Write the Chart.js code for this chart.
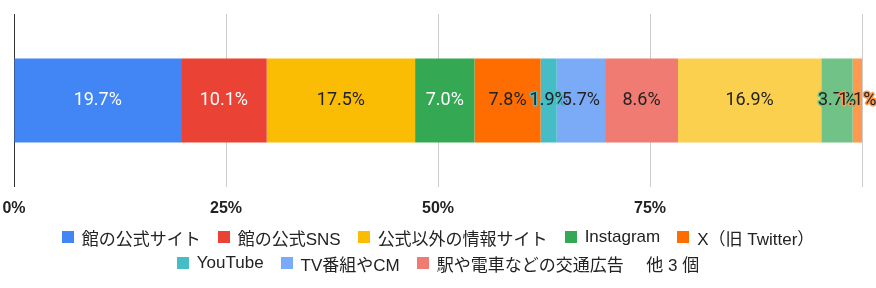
<!DOCTYPE html>
<html>
<head>
<meta charset="utf-8">
<script src="https://cdn.jsdelivr.net/npm/chart.js@4/dist/chart.umd.min.js"></script>
<style>
  body { margin: 0; background: #fff; }
  #wrap { position: relative; width: 876px; height: 288px; }
  #box { position: absolute; left: 0; top: 0; width: 876px; height: 230px; }
  #legend {
    position: absolute; left: 0; top: 224px; width: 876px;
    font-family: "Liberation Sans", Arial, "Noto Sans CJK JP", sans-serif;
    font-size: 17px; color: #222;
  }
  .row { display: flex; justify-content: center; height: 26px; align-items: center; }
  .item { display: flex; align-items: center; margin: 0 8.5px; white-space: nowrap; }
  .item.more { margin-left: 14px; }
  .sw { width: 12px; height: 12px; margin-right: 8px; }
</style>
</head>
<body>
<div id="wrap">
  <div id="box"><canvas id="myChart"></canvas></div>
  <div id="legend"></div>
</div>
<script>
// categories and values (percent)
const labels = ['館の公式サイト', '館の公式SNS', '公式以外の情報サイト', 'Instagram', 'X（旧 Twitter）',
  'YouTube', 'TV番組やCM', '駅や電車などの交通広告', 'その他1', 'その他2', 'その他3'];
const values = [19.7, 10.1, 17.5, 7.0, 7.8, 1.9, 5.7, 8.6, 16.9, 3.7, 1.1];
const colors = ['#4285F4', '#EA4335', '#FBBC04', '#34A853', '#FF6D01', '#46BDC6',
  '#7BAAF7', '#F07B72', '#FCD04F', '#71C287', '#FF994D'];
const textColors = ['#fff', '#fff', '#222', '#fff', '#222', '#222', '#222', '#222', '#222', '#222', '#222'];
const tickValues = [0, 25, 50, 75, 100];

// legend rows (first 8 items, then "他 3 個")
const legendRows = [[0, 1, 2, 3, 4], [5, 6, 7, 'more']];
const legend = document.querySelector('#legend');
for (const row of legendRows) {
    let r = document.createElement('div');
    r.className = 'row';
    for (const i of row) {
        let it = document.createElement('div');
        it.className = 'item';
        if (i === 'more') {
            it.className = 'item more';
            it.textContent = '他 3 個';
        } else {
            let sw = document.createElement('span');
            sw.className = 'sw';
            sw.style.background = colors[i];
            it.appendChild(sw);
            it.appendChild(document.createTextNode(labels[i]));
        }
        r.appendChild(it);
    }
    legend.appendChild(r);
}

// draw the percent labels inside the segments, with a halo in the segment color
const segLabels = {
    id: 'segLabels',
    afterDatasetsDraw(chart) {
        const ctx = chart.ctx;
        ctx.save();
        ctx.font = '18px Roboto';
        ctx.textAlign = 'center';
        ctx.textBaseline = 'middle';
        ctx.lineJoin = 'round';
        chart.data.datasets.forEach((ds, i) => {
            const bar = chart.getDatasetMeta(i).data[0];
            const x = (bar.x + bar.base) / 2;
            const txt = ds.data[0].toFixed(1) + '%';
            ctx.lineWidth = 3;
            ctx.strokeStyle = colors[i];
            ctx.strokeText(txt, x, bar.y);
            ctx.fillStyle = textColors[i];
            ctx.fillText(txt, x, bar.y);
        });
        ctx.restore();
    }
};

let myChart = document.querySelector('#myChart').getContext('2d');
let stackChart = new Chart(myChart, {
    type: 'bar',
    data: {
        labels: [''],
        datasets: labels.map((l, i) => ({
            label: l,
            data: [values[i]],
            backgroundColor: colors[i],
            borderWidth: 0,
            categoryPercentage: 1,
            barPercentage: 0.486
        }))
    },
    options: {
        indexAxis: 'y',
        responsive: true,
        maintainAspectRatio: false,
        animation: false,
        layout: { padding: { left: 14, right: 14, top: 14, bottom: 0 } },
        plugins: { legend: { display: false }, tooltip: { enabled: false } },
        scales: {
            x: {
                stacked: true,
                min: 0,
                max: 100,
                afterBuildTicks: axis => { axis.ticks = tickValues.map(v => ({ value: v })); },
                afterFit: axis => { axis.paddingLeft = 0; axis.paddingRight = 0; },
                grid: {
                    drawTicks: false,
                    color: c => c.tick && c.tick.value === 0 ? '#333' : '#ccc'
                },
                border: { display: false },
                ticks: {
                    padding: 12,
                    color: '#222',
                    font: { family: '"Liberation Sans", Arial', size: 16, weight: 'bold' },
                    callback: v => v === 100 ? '' : v + '%'
                }
            },
            y: { stacked: true, display: false }
        }
    },
    plugins: [segLabels]
});
</script>
</body>
</html>
